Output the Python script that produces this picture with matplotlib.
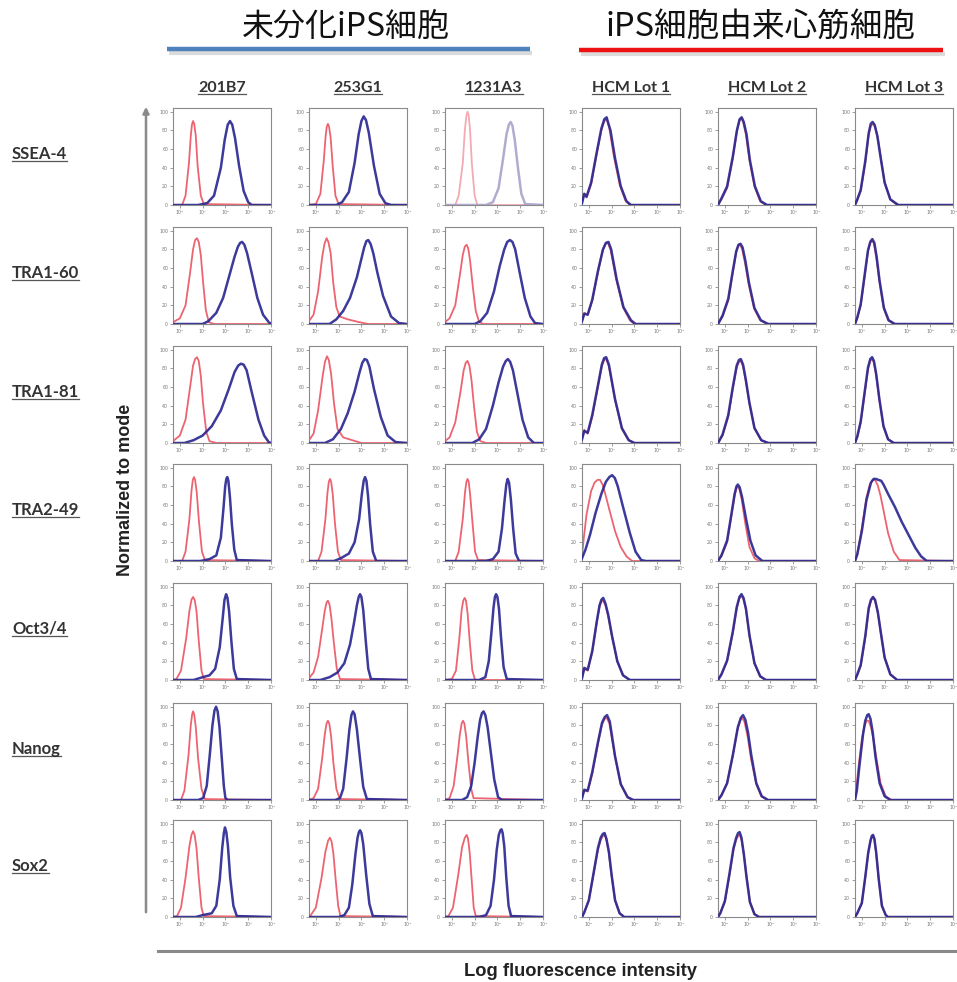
import matplotlib
matplotlib.use('Agg')
import matplotlib.pyplot as plt
from matplotlib.lines import Line2D
from matplotlib.patches import FancyArrowPatch

# ---------------- data ----------------
group_titles = ["未分化iPS細胞", "iPS細胞由来心筋細胞"]
col_labels = ["201B7", "253G1", "1231A3", "HCM Lot 1", "HCM Lot 2", "HCM Lot 3"]
row_labels = ["SSEA-4", "TRA1-60", "TRA1-81", "TRA2-49", "Oct3/4", "Nanog", "Sox2"]
x_ticks = [0, 1, 2, 3, 4]
x_tick_labels = ["10⁰", "10¹", "10²", "10³", "10⁴"]
y_ticks = [0, 20, 40, 60, 80, 100]
y_tick_labels = ["0", "20", "40", "60", "80", "100"]
y_label = "Normalized to mode"
x_label = "Log fluorescence intensity"

# each curve: list of (log fluorescence, % of mode) points
# red = isotype control, blue = stained sample
ssea4_red = [
    [(-0.3,0),(0.1,0),(0.25,10),(0.4,45),(0.48,74),(0.53,86),(0.58,90),(0.63,87),(0.7,74),(0.78,42),(0.92,10),(1.05,1),(4,0)],
    [(-0.3,0),(0.0,1),(0.2,12),(0.35,48),(0.43,74),(0.48,84),(0.53,87),(0.58,84),(0.65,72),(0.74,42),(0.86,10),(1.0,1),(4,0)],
    [(-0.3,0),(0.15,0),(0.3,10),(0.48,45),(0.57,80),(0.64,96),(0.69,100),(0.74,96),(0.8,80),(0.88,44),(1.0,10),(1.12,0),(4,0)],
    [(-0.3,3),(-0.2,12),(-0.1,8),(0.1,22),(0.35,55),(0.55,80),(0.68,90),(0.79,92),(0.9,82),(1.1,52),(1.35,22),(1.6,5),(1.8,0),(4,0)],
    [(-0.3,0),(-0.15,6),(0.1,18),(0.35,50),(0.52,78),(0.63,90),(0.72,93),(0.8,89),(0.92,76),(1.08,48),(1.3,20),(1.55,4),(1.8,0),(4,0)],
    [(-0.3,0),(-0.2,5),(-0.05,15),(0.15,45),(0.3,75),(0.4,85),(0.49,87),(0.58,84),(0.7,72),(0.85,48),(1.0,24),(1.25,6),(1.55,0),(4,0)],
]
ssea4_blue = [
    [(-0.3,0),(0.8,0),(1.2,2),(1.5,10),(1.8,40),(1.97,70),(2.1,86),(2.2,90),(2.3,86),(2.42,72),(2.6,42),(2.8,15),(3.0,3),(3.15,0),(4,0)],
    [(-0.3,0),(0.9,0),(1.15,3),(1.45,14),(1.7,45),(1.88,76),(2.0,90),(2.1,95),(2.2,91),(2.32,78),(2.55,42),(2.8,12),(3.05,2),(3.3,0),(4,0)],
    [(-0.3,0),(1.5,0),(1.8,3),(2.05,18),(2.25,50),(2.4,76),(2.5,86),(2.58,89),(2.66,85),(2.76,70),(2.9,40),(3.05,12),(3.22,1),(4,0)],
    [(-0.3,2),(-0.2,12),(-0.1,9),(0.1,24),(0.35,57),(0.55,82),(0.68,92),(0.78,94),(0.85,88),(0.95,80),(1.15,50),(1.4,20),(1.65,4),(1.85,0),(4,0)],
    [(-0.3,0),(-0.15,7),(0.1,20),(0.35,52),(0.53,80),(0.65,92),(0.74,94),(0.83,89),(0.95,76),(1.1,48),(1.32,20),(1.58,4),(1.85,0),(4,0)],
    [(-0.3,0),(-0.2,6),(-0.05,16),(0.15,47),(0.3,77),(0.39,87),(0.47,89),(0.56,86),(0.68,74),(0.83,50),(1.0,24),(1.25,6),(1.6,0),(4,0)],
]
tra160_red = [
    [(-0.3,2),(0.0,6),(0.25,20),(0.45,55),(0.58,80),(0.67,90),(0.75,92),(0.83,88),(0.92,74),(1.02,45),(1.14,15),(1.27,2),(1.5,0),(4,0)],
    [(-0.3,3),(-0.1,10),(0.1,35),(0.28,72),(0.38,86),(0.47,92),(0.55,88),(0.65,76),(0.76,45),(0.9,18),(1.05,8),(1.4,5),(1.9,2),(2.3,0),(4,0)],
    [(-0.3,2),(-0.1,6),(0.15,20),(0.35,52),(0.48,74),(0.57,83),(0.65,85),(0.72,81),(0.8,68),(0.92,40),(1.05,14),(1.2,2),(1.4,0),(4,0)],
    [(-0.3,3),(-0.2,12),(-0.05,10),(0.15,25),(0.4,55),(0.6,78),(0.72,86),(0.83,87),(0.95,80),(1.2,48),(1.5,18),(1.8,4),(2.0,0),(4,0)],
    [(-0.3,0),(-0.1,8),(0.15,25),(0.35,55),(0.5,77),(0.59,84),(0.67,85),(0.76,80),(0.88,66),(1.05,42),(1.28,17),(1.55,4),(1.85,0),(4,0)],
    [(-0.3,0),(-0.2,6),(-0.05,20),(0.12,50),(0.27,78),(0.37,87),(0.45,90),(0.53,86),(0.63,72),(0.77,46),(0.95,18),(1.15,4),(1.4,0),(4,0)],
]
tra160_blue = [
    [(-0.3,0),(1.0,0),(1.25,3),(1.6,12),(1.9,28),(2.15,50),(2.4,72),(2.55,83),(2.65,87),(2.73,88),(2.83,85),(2.95,76),(3.15,55),(3.4,28),(3.65,10),(3.9,2),(4,0)],
    [(-0.3,0),(0.6,0),(0.9,5),(1.2,14),(1.5,28),(1.8,50),(2.0,70),(2.12,82),(2.22,89),(2.3,90),(2.4,86),(2.52,76),(2.7,55),(2.95,30),(3.3,8),(3.65,1),(4,0)],
    [(-0.3,0),(1.0,0),(1.25,3),(1.55,12),(1.85,35),(2.1,62),(2.3,80),(2.43,88),(2.55,90),(2.66,88),(2.78,80),(2.97,56),(3.2,28),(3.45,8),(3.65,1),(4,0)],
    [(-0.3,3),(-0.2,11),(-0.05,10),(0.15,26),(0.4,57),(0.62,80),(0.75,87),(0.86,88),(0.98,80),(1.22,48),(1.52,18),(1.85,4),(2.05,0),(4,0)],
    [(-0.3,0),(-0.1,9),(0.15,27),(0.35,57),(0.5,78),(0.6,85),(0.69,86),(0.78,82),(0.9,68),(1.06,44),(1.3,17),(1.58,4),(1.9,0),(4,0)],
    [(-0.3,0),(-0.2,7),(-0.05,21),(0.12,52),(0.27,79),(0.37,88),(0.46,91),(0.55,87),(0.65,72),(0.78,46),(0.97,17),(1.18,4),(1.45,0),(4,0)],
]
tra181_red = [
    [(-0.3,2),(0.0,8),(0.25,25),(0.45,60),(0.58,83),(0.67,90),(0.75,92),(0.83,88),(0.92,72),(1.02,42),(1.16,12),(1.3,2),(1.6,0),(4,0)],
    [(-0.3,3),(-0.1,10),(0.1,35),(0.3,72),(0.4,87),(0.49,93),(0.57,89),(0.67,74),(0.8,42),(0.95,15),(1.2,6),(1.6,3),(2.0,0),(4,0)],
    [(-0.3,2),(-0.1,6),(0.15,22),(0.38,55),(0.52,78),(0.61,86),(0.69,88),(0.77,83),(0.86,68),(0.97,40),(1.1,12),(1.25,2),(1.5,0),(4,0)],
    [(-0.3,4),(-0.2,14),(-0.05,10),(0.15,28),(0.4,60),(0.57,82),(0.67,89),(0.76,90),(0.88,82),(1.15,46),(1.45,15),(1.75,3),(2.0,0),(4,0)],
    [(-0.3,0),(-0.1,8),(0.15,28),(0.35,58),(0.52,81),(0.62,87),(0.7,88),(0.8,82),(0.92,66),(1.08,42),(1.3,16),(1.6,3),(1.9,0),(4,0)],
    [(-0.3,0),(-0.2,6),(-0.05,22),(0.12,52),(0.27,79),(0.37,88),(0.45,90),(0.53,86),(0.63,72),(0.77,46),(0.95,18),(1.15,4),(1.4,0),(4,0)],
]
tra181_blue = [
    [(-0.3,0),(0.2,0),(0.6,3),(1.0,8),(1.4,18),(1.8,35),(2.15,58),(2.4,76),(2.56,83),(2.68,85),(2.8,84),(2.93,78),(3.15,55),(3.45,25),(3.7,8),(3.9,1),(4,0)],
    [(-0.3,0),(0.4,0),(0.75,4),(1.1,15),(1.4,32),(1.7,55),(1.92,76),(2.04,86),(2.14,90),(2.24,89),(2.35,82),(2.55,58),(2.85,28),(3.15,8),(3.5,1),(4,0)],
    [(-0.3,0),(0.9,0),(1.2,4),(1.5,15),(1.8,40),(2.05,65),(2.25,82),(2.37,88),(2.46,90),(2.56,87),(2.68,78),(2.87,54),(3.1,25),(3.35,6),(3.6,0),(4,0)],
    [(-0.3,4),(-0.2,13),(-0.05,11),(0.15,30),(0.4,62),(0.57,84),(0.67,91),(0.76,92),(0.88,84),(1.15,47),(1.45,16),(1.75,3),(2.0,0),(4,0)],
    [(-0.3,0),(-0.1,9),(0.15,30),(0.35,60),(0.52,83),(0.62,89),(0.7,90),(0.8,84),(0.92,68),(1.08,43),(1.3,16),(1.6,3),(1.9,0),(4,0)],
    [(-0.3,0),(-0.2,7),(-0.05,23),(0.12,54),(0.27,81),(0.37,90),(0.45,92),(0.53,88),(0.63,74),(0.77,47),(0.95,18),(1.15,4),(1.4,0),(4,0)],
]
tra249_red = [
    [(-0.3,0),(0.1,0),(0.25,10),(0.42,45),(0.51,75),(0.57,87),(0.62,90),(0.67,87),(0.74,74),(0.84,42),(0.97,10),(1.1,1),(4,0)],
    [(-0.3,0),(0.1,0),(0.25,10),(0.42,45),(0.51,73),(0.57,85),(0.62,88),(0.67,85),(0.74,72),(0.84,40),(0.97,10),(1.1,1),(4,0)],
    [(-0.3,0),(0.15,0),(0.3,10),(0.48,45),(0.58,74),(0.64,85),(0.69,88),(0.74,85),(0.8,72),(0.91,40),(1.02,10),(1.15,1),(4,0)],
    [(-0.3,5),(-0.22,25),(-0.1,50),(0.1,75),(0.25,84),(0.38,87),(0.49,87),(0.6,82),(0.72,72),(0.9,55),(1.15,32),(1.4,15),(1.65,5),(1.9,0),(4,0)],
    [(-0.3,0),(-0.15,5),(0.1,20),(0.3,50),(0.43,70),(0.51,78),(0.57,80),(0.64,77),(0.74,66),(0.9,40),(1.08,15),(1.3,3),(1.5,0),(4,0)],
    [(-0.3,0),(-0.2,8),(0.0,35),(0.2,68),(0.35,82),(0.47,87),(0.58,87),(0.7,81),(0.82,70),(0.97,52),(1.15,30),(1.4,10),(1.65,1),(4,0)],
]
tra249_blue = [
    [(-0.3,0),(0.9,0),(1.3,2),(1.6,6),(1.8,25),(1.92,58),(1.99,80),(2.04,88),(2.08,90),(2.13,86),(2.2,68),(2.28,40),(2.39,12),(2.5,1),(4,0)],
    [(-0.3,0),(0.8,0),(1.1,3),(1.45,8),(1.7,20),(1.9,45),(2.02,72),(2.1,86),(2.16,90),(2.22,86),(2.29,70),(2.38,40),(2.5,10),(2.65,0),(4,0)],
    [(-0.3,0),(1.5,0),(1.8,2),(2.05,10),(2.2,35),(2.31,64),(2.39,82),(2.45,88),(2.51,84),(2.59,66),(2.69,35),(2.8,8),(2.95,0),(4,0)],
    [(-0.3,3),(-0.15,12),(0.05,28),(0.3,52),(0.55,72),(0.75,85),(0.9,90),(1.02,92),(1.14,89),(1.27,80),(1.5,58),(1.8,30),(2.05,10),(2.3,1),(2.5,0),(4,0)],
    [(-0.3,0),(-0.15,6),(0.1,22),(0.3,52),(0.43,72),(0.51,80),(0.57,82),(0.65,79),(0.76,68),(0.94,44),(1.12,22),(1.35,6),(1.65,0),(4,0)],
    [(-0.3,0),(-0.2,7),(0.0,32),(0.2,65),(0.4,84),(0.52,88),(0.62,88),(0.72,87),(0.85,86),(0.95,82),(1.15,72),(1.45,58),(1.75,42),(2.05,28),(2.35,14),(2.6,5),(2.85,0),(4,0)],
]
oct34_red = [
    [(-0.3,0),(-0.15,1),(0.05,10),(0.28,45),(0.42,74),(0.51,86),(0.58,89),(0.65,86),(0.73,74),(0.83,42),(0.95,10),(1.05,1),(4,0)],
    [(-0.3,2),(-0.1,8),(0.1,25),(0.28,55),(0.39,74),(0.47,83),(0.53,85),(0.6,81),(0.68,67),(0.79,40),(0.92,12),(1.06,1),(4,0)],
    [(-0.3,0),(0.0,1),(0.18,10),(0.33,45),(0.43,75),(0.5,85),(0.56,88),(0.62,85),(0.69,72),(0.79,40),(0.9,10),(1.02,0),(4,0)],
    [(-0.3,2),(-0.2,12),(-0.05,10),(0.15,30),(0.35,62),(0.47,79),(0.55,84),(0.63,85),(0.73,80),(0.85,68),(1.02,46),(1.25,20),(1.5,5),(1.8,0),(4,0)],
    [(-0.3,0),(-0.15,6),(0.1,20),(0.35,50),(0.52,76),(0.63,87),(0.72,90),(0.81,87),(0.92,76),(1.08,48),(1.3,18),(1.55,4),(1.8,0),(4,0)],
    [(-0.3,0),(-0.2,5),(-0.05,15),(0.15,45),(0.3,75),(0.4,85),(0.49,88),(0.58,85),(0.7,72),(0.85,48),(1.0,24),(1.25,6),(1.55,0),(4,0)],
]
oct34_blue = [
    [(-0.3,0),(0.6,0),(1.0,3),(1.3,5),(1.55,12),(1.75,35),(1.88,66),(1.96,86),(2.03,92),(2.09,88),(2.16,74),(2.26,42),(2.37,12),(2.5,1),(4,0)],
    [(-0.3,0),(0.2,0),(0.6,3),(0.95,8),(1.25,18),(1.5,38),(1.68,62),(1.8,80),(1.88,89),(1.94,92),(2.0,89),(2.08,75),(2.19,42),(2.3,12),(2.42,1),(4,0)],
    [(-0.3,0),(1.2,0),(1.47,3),(1.62,20),(1.74,52),(1.83,78),(1.89,89),(1.94,92),(2.0,89),(2.07,76),(2.15,48),(2.27,14),(2.41,1),(4,0)],
    [(-0.3,2),(-0.2,13),(-0.05,11),(0.15,31),(0.35,63),(0.47,80),(0.55,86),(0.63,88),(0.73,82),(0.85,70),(1.02,47),(1.25,20),(1.5,5),(1.8,0),(4,0)],
    [(-0.3,0),(-0.15,6),(0.1,21),(0.35,52),(0.52,78),(0.64,89),(0.73,92),(0.82,88),(0.93,76),(1.08,48),(1.3,18),(1.55,4),(1.8,0),(4,0)],
    [(-0.3,0),(-0.2,6),(-0.05,16),(0.15,47),(0.3,77),(0.4,86),(0.49,89),(0.58,86),(0.7,73),(0.85,48),(1.0,24),(1.25,6),(1.55,0),(4,0)],
]
nanog_red = [
    [(-0.3,0),(0.05,0),(0.2,10),(0.38,48),(0.48,80),(0.54,92),(0.58,95),(0.63,92),(0.7,78),(0.8,45),(0.95,12),(1.1,1),(4,0)],
    [(-0.3,0),(-0.1,2),(0.1,12),(0.28,45),(0.39,70),(0.47,82),(0.53,85),(0.59,82),(0.67,68),(0.77,40),(0.9,12),(1.05,1),(4,0)],
    [(-0.3,0),(-0.1,2),(0.08,15),(0.25,48),(0.35,70),(0.43,82),(0.49,85),(0.55,82),(0.63,68),(0.73,40),(0.85,12),(0.95,2),(4,0)],
    [(-0.3,2),(-0.2,10),(-0.05,9),(0.15,28),(0.4,60),(0.57,80),(0.69,87),(0.79,88),(0.9,82),(1.15,46),(1.4,17),(1.7,3),(1.95,0),(4,0)],
    [(-0.3,0),(-0.15,5),(0.1,18),(0.35,48),(0.55,75),(0.67,85),(0.76,88),(0.86,84),(1.0,68),(1.15,44),(1.38,17),(1.6,4),(1.85,0),(4,0)],
    [(-0.3,0),(-0.25,10),(-0.15,35),(0.0,65),(0.12,80),(0.22,85),(0.3,85),(0.4,78),(0.5,66),(0.64,45),(0.82,18),(1.05,4),(1.3,0),(4,0)],
]
nanog_blue = [
    [(-0.3,0),(0.8,0),(1.02,2),(1.18,15),(1.32,50),(1.43,80),(1.52,96),(1.59,100),(1.66,95),(1.74,78),(1.84,45),(1.93,15),(2.0,2),(2.1,0),(4,0)],
    [(-0.3,0),(0.85,0),(1.06,2),(1.2,12),(1.35,45),(1.47,75),(1.56,91),(1.63,95),(1.7,92),(1.8,76),(1.94,44),(2.08,14),(2.24,1),(4,0)],
    [(-0.3,0),(0.45,0),(0.67,3),(0.85,15),(1.0,40),(1.13,67),(1.24,86),(1.32,93),(1.39,95),(1.47,91),(1.57,78),(1.7,53),(1.86,22),(2.03,3),(2.2,0),(4,0)],
    [(-0.3,2),(-0.2,11),(-0.05,10),(0.15,30),(0.4,62),(0.58,83),(0.7,89),(0.8,91),(0.92,84),(1.15,47),(1.4,17),(1.7,3),(1.95,0),(4,0)],
    [(-0.3,0),(-0.15,5),(0.1,18),(0.35,48),(0.57,78),(0.7,88),(0.8,91),(0.9,86),(1.02,72),(1.16,48),(1.38,18),(1.62,4),(1.9,0),(4,0)],
    [(-0.3,0),(-0.22,10),(-0.1,38),(0.05,70),(0.15,85),(0.24,91),(0.3,92),(0.38,87),(0.48,72),(0.6,46),(0.78,18),(1.0,4),(1.25,0),(4,0)],
]
sox2_red = [
    [(-0.3,0),(-0.12,1),(0.05,10),(0.25,42),(0.42,76),(0.51,88),(0.58,92),(0.65,88),(0.73,74),(0.83,42),(0.95,10),(1.05,1),(4,0)],
    [(-0.3,0),(-0.22,2),(0.0,10),(0.25,42),(0.42,70),(0.54,82),(0.62,85),(0.69,81),(0.77,68),(0.87,40),(0.98,12),(1.08,1),(4,0)],
    [(-0.3,0),(-0.15,1),(0.05,10),(0.28,45),(0.45,75),(0.57,85),(0.65,88),(0.71,84),(0.78,70),(0.87,40),(0.96,10),(1.05,1),(4,0)],
    [(-0.3,0),(-0.2,5),(0.0,18),(0.2,45),(0.4,72),(0.53,83),(0.62,87),(0.7,88),(0.78,82),(0.88,68),(1.0,44),(1.15,18),(1.35,4),(1.55,0),(4,0)],
    [(-0.3,0),(-0.2,4),(0.0,16),(0.2,44),(0.38,72),(0.5,83),(0.59,87),(0.66,88),(0.74,82),(0.84,66),(0.96,42),(1.1,16),(1.3,3),(1.5,0),(4,0)],
    [(-0.3,0),(-0.2,4),(0.0,15),(0.15,42),(0.28,68),(0.38,81),(0.44,86),(0.49,87),(0.55,83),(0.63,68),(0.74,40),(0.88,12),(1.05,2),(1.15,0),(4,0)],
]
sox2_blue = [
    [(-0.3,0),(0.7,0),(1.0,2),(1.4,4),(1.6,12),(1.75,40),(1.86,74),(1.93,90),(1.98,96),(2.04,91),(2.11,76),(2.21,42),(2.35,12),(2.5,1),(4,0)],
    [(-0.3,0),(1.0,0),(1.25,2),(1.45,10),(1.6,35),(1.74,68),(1.83,85),(1.89,91),(1.94,93),(2.0,90),(2.08,78),(2.21,45),(2.35,14),(2.5,1),(4,0)],
    [(-0.3,0),(1.2,0),(1.5,2),(1.7,12),(1.85,40),(1.97,72),(2.06,88),(2.13,93),(2.18,94),(2.23,90),(2.3,76),(2.39,42),(2.49,12),(2.6,1),(4,0)],
    [(-0.3,0),(-0.2,5),(0.0,18),(0.2,46),(0.4,74),(0.52,85),(0.61,89),(0.69,90),(0.77,84),(0.88,70),(1.0,45),(1.15,18),(1.35,4),(1.55,0),(4,0)],
    [(-0.3,0),(-0.2,4),(0.0,17),(0.2,46),(0.38,74),(0.5,85),(0.58,90),(0.65,91),(0.73,85),(0.83,68),(0.95,43),(1.1,16),(1.3,3),(1.5,0),(4,0)],
    [(-0.3,0),(-0.2,4),(0.0,15),(0.15,43),(0.28,69),(0.38,82),(0.44,87),(0.49,88),(0.55,84),(0.63,69),(0.74,41),(0.88,12),(1.05,2),(1.15,0),(4,0)],
]
red_rows = [ssea4_red, tra160_red, tra181_red, tra249_red, oct34_red, nanog_red, sox2_red]
blue_rows = [ssea4_blue, tra160_blue, tra181_blue, tra249_blue, oct34_blue, nanog_blue, sox2_blue]

# ---------------- layout ----------------
W, H = 957, 982
fig = plt.figure(figsize=(W / 100, H / 100), dpi=100)
fig.patch.set_facecolor('white')

def fxp(px):
    return px / W

def fyp(py):
    return 1 - py / H

col_left = [173, 309, 445, 582, 718, 855]
row_top = [108, 227, 346, 464, 583, 703, 820]
pw, ph = 98, 97

lab_font = 'Lato'
axis_font = 'Liberation Sans'

for r in range(len(row_labels)):
    for c in range(len(col_labels)):
        ax = fig.add_axes([fxp(col_left[c]), fyp(row_top[r] + ph), pw / W, ph / H])
        faded = (r == 0 and c == 2)
        red_col = '#f3aab2' if faded else '#ec6470'
        blue_col = '#aaa5cc' if faded else '#2b2992'
        rx, ry = zip(*red_rows[r][c])
        bx, by = zip(*blue_rows[r][c])
        ax.plot(rx, ry, color=red_col, lw=1.3, solid_joinstyle='round', zorder=2)
        ax.plot(bx, by, color=blue_col, lw=1.8, solid_joinstyle='round', zorder=3, alpha=0.92)
        ax.set_xlim(-0.3, 4.0)
        ax.set_ylim(0, 104)
        ax.set_xticks(x_ticks)
        ax.set_xticklabels(x_tick_labels)
        ax.set_yticks(y_ticks)
        ax.set_yticklabels(y_tick_labels)
        ax.tick_params(labelsize=3.4, length=2, width=0.5, pad=1.5, colors='#777777')
        for s in ax.spines.values():
            s.set_color('#8a8a8a')
            s.set_linewidth(0.8)

# group titles
fig.text(fxp(346), fyp(27), group_titles[0], ha='center', va='center',
         fontsize=23, family=['Noto Sans CJK JP', 'DejaVu Sans'], color='#111111')
fig.text(fxp(760), fyp(27), group_titles[1], ha='center', va='center',
         fontsize=23.5, family=['Noto Sans CJK JP', 'DejaVu Sans'], color='#111111')
# coloured underlines with soft shadow
for (x0, x1, y, col) in [(167, 530, 49, '#4f81bd'), (579, 943, 50, '#ee1111')]:
    fig.add_artist(Line2D([fxp(x0 + 2), fxp(x1 + 2)], [fyp(y + 4)] * 2, transform=fig.transFigure,
                          color='#cccccc', lw=3, alpha=0.7, solid_capstyle='butt'))
    fig.add_artist(Line2D([fxp(x0), fxp(x1)], [fyp(y)] * 2, transform=fig.transFigure,
                          color=col, lw=3.2, solid_capstyle='butt'))

# column and row labels (underlined)
label_texts = []
for c, lab in enumerate(col_labels):
    t = fig.text(fxp(col_left[c] + pw / 2), fyp(88), lab, ha='center', va='center',
                 fontsize=11.5, fontweight='bold', family=lab_font, color='#333333')
    label_texts.append(t)
for r, lab in enumerate(row_labels):
    t = fig.text(fxp(12), fyp(row_top[r] + 46), lab, ha='left', va='center',
                 fontsize=12, fontweight='bold', family=lab_font, color='#333333')
    label_texts.append(t)

fig.canvas.draw()
renderer = fig.canvas.get_renderer()
for t in label_texts:
    bb = t.get_window_extent(renderer)
    fig.add_artist(Line2D([bb.x0 / W, bb.x1 / W], [(bb.y0 + 1) / H] * 2, transform=fig.transFigure,
                          color='#555555', lw=0.9))

# y-axis arrow and label
fig.add_artist(FancyArrowPatch((fxp(146), fyp(915)), (fxp(146), fyp(104)), transform=fig.transFigure,
                               arrowstyle='-|>', mutation_scale=9, color='#8a8a8a', lw=1.8))
fig.text(fxp(125), fyp(490), y_label, rotation=90, ha='center', va='center',
         fontsize=13, fontweight='bold', family=axis_font, color='#222222')

# x-axis baseline and label
fig.add_artist(Line2D([fxp(158), fxp(957)], [fyp(951)] * 2, transform=fig.transFigure,
                      color='#8a8a8a', lw=2.2))
fig.text(fxp(580), fyp(971), x_label, ha='center', va='center',
         fontsize=13.2, fontweight='bold', family=axis_font, color='#222222')

fig.savefig('out.png', dpi=100, facecolor='white')
